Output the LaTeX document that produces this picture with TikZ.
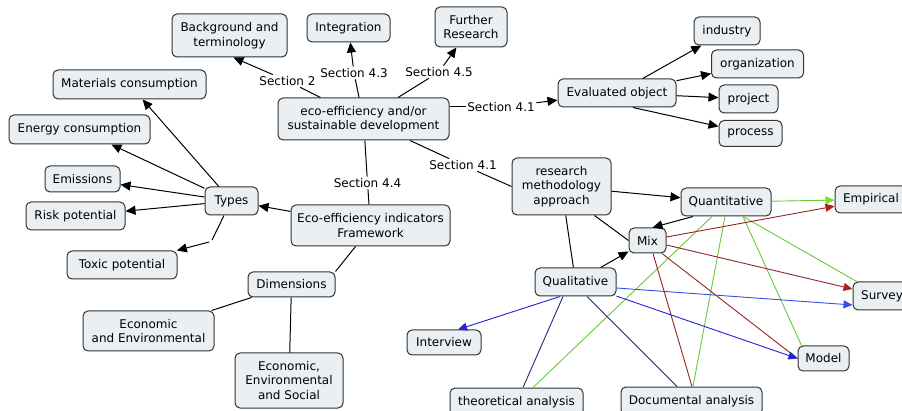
\documentclass[tikz,border=0pt]{standalone}
\usepackage{fontspec}
\setmainfont{DejaVu Sans}
\usetikzlibrary{arrows.meta}
\definecolor{boxfill}{RGB}{233,239,243}
\definecolor{boxline}{RGB}{50,50,50}
\definecolor{lgreen}{RGB}{105,200,60}
\definecolor{bgreen}{RGB}{120,225,40}
\definecolor{dred}{RGB}{150,35,35}
\definecolor{rtip}{RGB}{180,30,30}
\definecolor{bblue}{RGB}{35,35,210}
\definecolor{lblue}{RGB}{50,80,225}
\definecolor{navy}{RGB}{40,40,120}
\begin{document}
\begin{tikzpicture}[x=1pt,y=-1pt,
  font=\fontsize{12}{14.5}\selectfont,
  box/.style={draw=boxline, fill=boxfill, rounded corners=5pt, line width=1pt, align=center, inner sep=2pt},
  lbl/.style={fill=white, inner sep=1.5pt},
  con/.style={line width=1pt, black},
  tip/.style={-{Triangle[length=10pt,width=9pt]}},
  ctip/.style={-{Triangle[length=9pt,width=8pt]}},
  gline/.style={line width=0.9pt, lgreen},
  rline/.style={line width=0.9pt, dred},
  nline/.style={line width=0.9pt, navy},
  bline/.style={line width=0.9pt, bblue},
  bline2/.style={line width=0.9pt, lblue}]
\useasboundingbox (0,0) rectangle (902,411);
\clip (0,0) rectangle (902,411);

% nodes
\node[box, minimum width=115pt, minimum height=43pt] (bg) at (229.5,35.5) {Background and\\terminology};
\node[box, minimum width=83pt, minimum height=28pt] (integ) at (348.5,28) {Integration};
\node[box, minimum width=72pt, minimum height=40pt] (further) at (471,27) {Further\\Research};
\node[box, minimum width=171pt, minimum height=42pt] (eco) at (363.5,119) {eco-efficiency and/or\\sustainable development};
\node[box, minimum width=153pt, minimum height=29pt] (mat) at (129.5,84.5) {Materials consumption};
\node[box, minimum width=141pt, minimum height=29pt] (energy) at (79.5,129.5) {Energy consumption};
\node[box, minimum width=75pt, minimum height=26pt] (emis) at (82.5,179) {Emissions};
\node[box, minimum width=53pt, minimum height=28pt] (types) at (231.5,201) {Types};
\node[box, minimum width=99pt, minimum height=28pt] (risk) at (75.5,216) {Risk potential};
\node[box, minimum width=110pt, minimum height=28pt] (toxic) at (122,265) {Toxic potential};
\node[box, minimum width=159pt, minimum height=41pt] (eif) at (370.5,225.5) {Eco-efficiency indicators\\Framework};
\node[box, minimum width=87pt, minimum height=25pt] (dim) at (291.5,284.5) {Dimensions};
\node[box, minimum width=131pt, minimum height=40pt] (ee) at (148.5,331) {Economic\\and Environmental};
\node[box, minimum width=108pt, minimum height=55pt] (ees) at (289,380.5) {Economic,\\Environmental\\and Social};
\node[box, minimum width=118pt, minimum height=28pt] (evo) at (617,93) {Evaluated object};
\node[box, minimum width=66pt, minimum height=28pt] (industry) at (727,31) {industry};
\node[box, minimum width=92pt, minimum height=28pt] (org) at (757.5,64) {organization};
\node[box, minimum width=59pt, minimum height=28pt] (project) at (748.5,99) {project};
\node[box, minimum width=63pt, minimum height=26pt] (process) at (750.5,133.5) {process};
\node[box, minimum width=99pt, minimum height=57pt] (rma) at (561.5,186.5) {research\\methodology\\approach};
\node[box, minimum width=90pt, minimum height=28pt] (quant) at (726,202) {Quantitative};
\node[box, minimum width=72pt, minimum height=27pt] (emp) at (871,199.5) {Empirical};
\node[box, minimum width=37pt, minimum height=25pt, inner sep=1pt] (mix) at (647.5,240.5) {Mix};
\node[box, minimum width=81pt, minimum height=28pt] (qual) at (575.5,282) {Qualitative};
\node[box, minimum width=58pt, minimum height=28pt] (survey) at (882,296) {Survey};
\node[box, minimum width=74pt, minimum height=25pt] (interview) at (444,342.5) {Interview};
\node[box, minimum width=51pt, minimum height=25pt] (model) at (823.5,358.5) {Model};
\node[box, minimum width=133pt, minimum height=28pt] (theo) at (516.5,402) {theoretical analysis};
\node[box, minimum width=141pt, minimum height=28pt] (doc) at (691.5,401) {Documental analysis};

% link labels
\node[lbl] (s2) at (287.5,81) {Section 2};
\node[lbl] (s43) at (354,73) {Section 4.3};
\node[lbl] (s45) at (439,72) {Section 4.5};
\node[lbl] (s41a) at (501,107) {Section 4.1};
\node[lbl] (s41b) at (463,165) {Section 4.1};
\node[lbl] (s44) at (367.5,183) {Section 4.4};

% links from the central concept
\draw[con] (eco) -- (s2);
\draw[con,tip] (s2) -- ([xshift=4pt]bg.south);
\draw[con] (eco) -- (s43);
\draw[con,tip] (s43) -- (integ);
\draw[con] (eco) -- (s45);
\draw[con,tip] (s45) -- (further);
\draw[con] ([yshift=12pt]eco.east) -- (s41a);
\draw[con,tip] (s41a) -- (evo);
\draw[con] (eco) -- (s41b);
\draw[con] (s41b) -- (rma.west);
\draw[con] (eco) -- (s44);
\draw[con] (s44) -- (eif);

% indicators framework
\draw[con,tip] (eif) -- (types);
\draw[con,tip] (types) -- (mat);
\draw[con,tip] (types) -- (energy);
\draw[con,tip] (types) -- (emis);
\draw[con,tip] (types) -- (risk);
\coordinate (tx1) at (212,240);
\coordinate (tx2) at (209,242);
\draw[con] ([xshift=-7.5pt]types.south) -- (tx1);
\draw[con,tip] (tx2) -- (toxic);
\draw[con] ([xshift=-15pt]eif.south) -- (dim.north east);
\draw[con] (dim) -- (ee);
\draw[con] (dim) -- (ees);

% evaluated object
\draw[con,tip] (evo) -- (industry);
\draw[con,tip] (evo) -- (org);
\draw[con,tip] (evo) -- (project);
\draw[con,tip] ([xshift=16pt]evo.south) -- (process);

% methodology
\draw[con,tip] (rma) -- (quant);
\draw[con] ([xshift=33pt]rma.south) -- (mix.west);
\draw[con] (rma) -- (qual);
\draw[con,tip] (qual) -- (mix);
\draw[con,tip] ([xshift=-33pt]quant.south) -- ([xshift=5pt]mix.north);

% green (quantitative)
\draw[gline] ([xshift=-14pt]quant.south) -- ([xshift=16.5pt]theo.north);
\draw[gline] ([xshift=-1pt]quant.south) -- ([xshift=1.5pt]doc.north);
\draw[gline] ([xshift=17pt]quant.south) -- ([xshift=-22pt]model.north);
\draw[gline] ([xshift=17pt]quant.south) -- (survey);
\draw[gline,-{Triangle[length=9pt,width=8pt,fill=bgreen,color=bgreen]}] (quant) -- (emp);

% red (mix)
\draw[rline] ([xshift=5.5pt]mix.south) -- ([xshift=0.5pt]doc.north);
\draw[rline] ([xshift=14.5pt]mix.south) -- (model.west);
\draw[rline,-{Triangle[length=9pt,width=8pt,color=rtip]}] (mix) -- (emp);
\draw[rline,-{Triangle[length=9pt,width=8pt,color=rtip]}] (mix) -- (survey);

% blue / navy (qualitative)
\draw[nline] ([xshift=-12.5pt]qual.south) -- ([xshift=6.5pt]theo.north);
\draw[nline] ([xshift=11.5pt]qual.south) -- ([xshift=-14.5pt]doc.north);
\draw[bline,ctip] ([xshift=-15.5pt]qual.south) -- ([xshift=14pt]interview.north);
\draw[bline,ctip] (qual) -- (model.west);
\draw[bline2,ctip] ([yshift=-6pt]qual.east) -- ([yshift=-9pt]survey.west);
\end{tikzpicture}
\end{document}
